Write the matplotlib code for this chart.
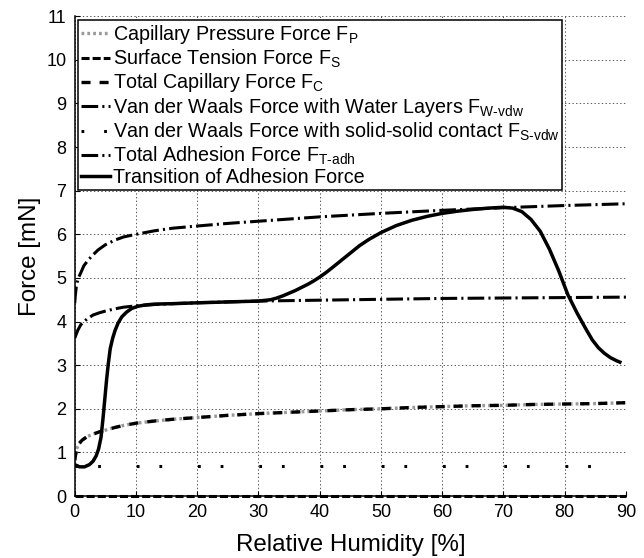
import matplotlib
matplotlib.use('Agg')
import matplotlib.pyplot as plt

plt.rcParams['font.family'] = ['Liberation Sans', 'DejaVu Sans']
plt.rcParams['mathtext.fontset'] = 'custom'
plt.rcParams['mathtext.rm'] = 'Liberation Sans'
plt.rcParams['lines.scale_dashes'] = False

# Capillary pressure force F_P
rh_p = [0, 0.3, 0.7, 1.2, 2, 3, 4, 5, 6.5, 8, 10, 13, 16, 20, 25, 30, 35, 40, 45,
        50, 55, 60, 65, 70, 75, 80, 85, 90]
f_p = [0.82, 1.08, 1.20, 1.28, 1.36, 1.42, 1.47, 1.51, 1.57, 1.62, 1.67, 1.72, 1.76,
       1.80, 1.85, 1.89, 1.92, 1.95, 1.98, 2.00, 2.03, 2.05, 2.07, 2.08, 2.10, 2.11,
       2.12, 2.14]

# Surface tension force F_S (practically zero)
rh_s = [0, 90]
f_s = [0.0, 0.0]

# Total capillary force F_C (coincides with F_P)
rh_c = rh_p
f_c = list(f_p)

# Van der Waals force with water layers F_W-vdw
rh_wvdw = [0, 0.5, 1, 2, 3, 4, 5, 6.5, 8, 10, 13, 16, 20, 25, 30, 40, 50, 60, 70, 80, 90]
f_wvdw = [3.62, 3.80, 3.93, 4.06, 4.15, 4.20, 4.24, 4.29, 4.33, 4.36, 4.39, 4.41, 4.43,
          4.45, 4.47, 4.49, 4.51, 4.53, 4.54, 4.55, 4.56]

# Van der Waals force with solid-solid contact F_S-vdw
rh_svdw = [0, 90]
f_svdw = [0.68, 0.68]

# Total adhesion force F_T-adh
rh_tadh = [0, 0.1, 0.3, 0.6, 1, 1.5, 2.2, 3, 3.8, 5, 6.6, 8, 10, 13, 16, 20, 25, 30,
           35, 40, 50, 60, 70, 80, 90]
f_tadh = [4.42, 4.60, 4.85, 5.00, 5.12, 5.28, 5.41, 5.53, 5.64, 5.76, 5.87, 5.94, 6.00,
          6.08, 6.14, 6.19, 6.25, 6.30, 6.35, 6.40, 6.48, 6.55, 6.61, 6.66, 6.70]

# Transition of adhesion force
rh_tr = [0, 0.8, 1.6, 2.4, 3.0, 3.5, 3.9, 4.3, 4.6, 4.9, 5.2, 5.5, 5.8, 6.2, 6.6, 7.1,
         7.7, 8.5, 9.3, 10.3, 11.5, 13, 16, 20, 25, 30, 32, 33, 34, 35, 36, 37, 38, 39,
         40, 41, 42, 43.5, 45, 46.5, 48, 50, 52.5, 55, 57.5, 60, 62.5, 65, 67.5, 70,
         71.5, 73, 74.5, 76, 77.5, 79, 80.5, 82, 83.5, 84.5, 85.5, 86.5, 87.5, 88.5, 89]
f_tr = [0.72, 0.67, 0.67, 0.72, 0.80, 0.92, 1.08, 1.35, 1.75, 2.20, 2.66, 3.05, 3.38,
        3.62, 3.80, 3.97, 4.11, 4.22, 4.30, 4.35, 4.38, 4.40, 4.41, 4.43, 4.45, 4.47,
        4.50, 4.54, 4.59, 4.65, 4.71, 4.78, 4.85, 4.93, 5.02, 5.12, 5.23, 5.40, 5.57,
        5.74, 5.88, 6.04, 6.20, 6.32, 6.41, 6.48, 6.53, 6.57, 6.60, 6.62, 6.60, 6.52,
        6.34, 6.07, 5.66, 5.17, 4.62, 4.20, 3.82, 3.58, 3.40, 3.27, 3.17, 3.10, 3.07]

fig = plt.figure(figsize=(6.44, 5.58), dpi=100)
ax = fig.add_axes([0.116, 0.111, 0.856, 0.860])

dashdot = (0, (12, 3, 1.5, 3))
ax.plot(rh_p, f_p, color='#9a9a9a', lw=2.4, linestyle=(0, (2, 2.2)),
        label='Capillary Pressure Force $\\mathregular{F_{P}}$')
ax.plot(rh_s, f_s, color='black', lw=2.2, linestyle=(0, (5.8, 2.2)), clip_on=False,
        label='Surface Tension Force $\\mathregular{F_{S}}$')
ax.plot(rh_c, f_c, color='black', lw=2.4, linestyle=(0, (6.5, 6.5)),
        label='Total Capillary Force $\\mathregular{F_{C}}$')
ax.plot(rh_wvdw, f_wvdw, color='black', lw=2.2, linestyle=dashdot,
        label='Van der Waals Force with Water Layers $\\mathregular{F_{W\\text{-}vdw}}$')
ax.plot(rh_svdw, f_svdw, color='black', lw=2.2, linestyle=(0, (2, 14.3, 2, 25.8)),
        label='Van der Waals Force with solid-solid contact $\\mathregular{F_{S\\text{-}vdw}}$')
ax.plot(rh_tadh, f_tadh, color='black', lw=2.2, linestyle=dashdot,
        label='Total Adhesion Force $\\mathregular{F_{T\\text{-}adh}}$')
ax.plot(rh_tr, f_tr, color='black', lw=2.5, linestyle='-',
        label='Transition of Adhesion Force')

ax.set_xlim(0, 90)
ax.set_ylim(0, 11)
ax.set_xticks(range(0, 91, 10))
ax.set_yticks(range(0, 12))
ax.grid(True, linestyle=':', color='0.35', linewidth=0.7)
ax.set_axisbelow(True)
for s in ['top', 'right']:
    ax.spines[s].set_visible(False)
for s in ['left', 'bottom']:
    ax.spines[s].set_linewidth(1.1)
ax.tick_params(direction='in', length=3.6, width=0.8, labelsize=13, pad=6)
ax.set_xlabel('Relative Humidity [%]', fontsize=17.4, labelpad=9)
ax.set_ylabel('Force [mN]', fontsize=17.4, labelpad=4)

leg = ax.legend(loc='upper left', bbox_to_anchor=(0.006, 0.992), borderaxespad=0,
                fontsize=14.2, handlelength=1.45, handletextpad=0.15, labelspacing=0.08,
                borderpad=0.15, fancybox=False, framealpha=1, edgecolor='black')
leg.get_frame().set_linewidth(1.1)

plt.savefig('out.png', dpi=100)
